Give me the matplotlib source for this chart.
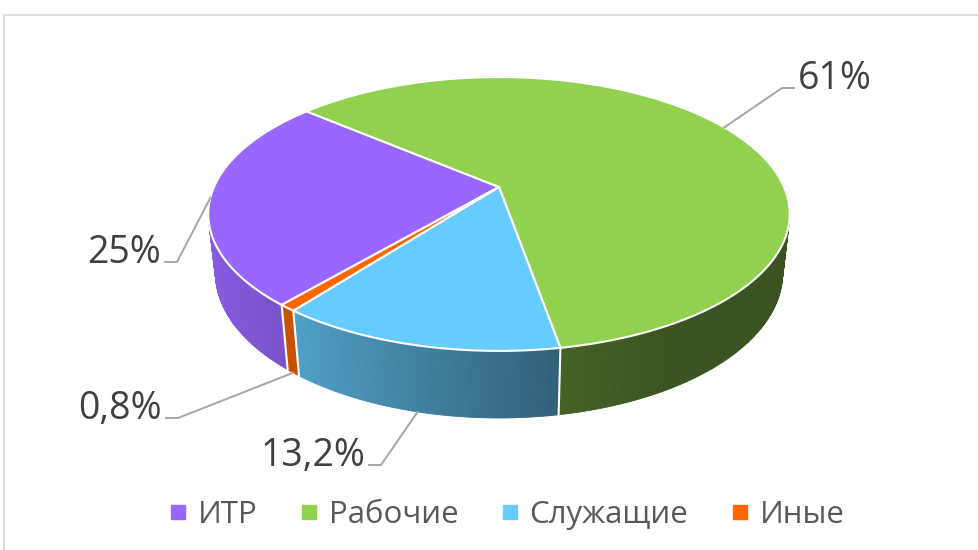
import numpy as np
import matplotlib.pyplot as plt
from matplotlib.collections import PolyCollection
from matplotlib.colors import to_rgb
from matplotlib.lines import Line2D

categories = ['ИТР', 'Рабочие', 'Служащие', 'Иные']
shares = [25, 61, 13.2, 0.8]
labels = ['25%', '61%', '13,2%', '0,8%']
colors = ['#9966FF', '#92D050', '#66CCFF', '#FF6600']

# label elbow points (pixels) for the leader lines
label_elbow = [(177, 262), (782, 88), (381, 465), (178, 418)]

FONT = ['Open Sans', 'DejaVu Sans']

# 3d view of the pie: centre, radius, tilt, camera distance, thickness
cx, cy = 499, 187
R = 285
elev = np.radians(27.5)
dist = 4.5
depth = 0.235
start = -130.4  # first slice starts here and runs clockwise


def project(theta, z=0.0):
    X = np.cos(theta)
    Y = np.sin(theta)
    s, c = np.sin(elev), np.cos(elev)
    yp = Y * s + z * c
    t = -Y * c + z * s
    k = dist / (dist - t)
    return cx + R * X * k, cy - R * yp * k


def shade(x):
    # side walls get darker towards the right
    return np.interp(x, [-1, -0.65, 0.17, 0.5, 1], [0.9, 0.8, 0.47, 0.40, 0.40])


fig = plt.figure(figsize=(9.79, 5.5), dpi=100)
ax = fig.add_axes([0, 0, 1, 1])
ax.set_xlim(0, 979)
ax.set_ylim(550, 0)
ax.axis('off')

# chart area frame
ax.plot([4.5, 4.5, 979], [550, 14.5, 14.5], color='#D9D9D9', lw=1.2)

bounds = np.radians(start - 360 * np.cumsum([0] + shares) / 100)

# side walls, far pieces first
quads, qcols, qdepth = [], [], []
for i in range(len(shares)):
    b0, b1 = bounds[i], bounds[i + 1]
    n = max(2, int(abs(np.degrees(b1 - b0)) * 2))
    th = np.linspace(b0, b1, n)
    base = np.array(to_rgb(colors[i]))
    for a0, a1 in zip(th[:-1], th[1:]):
        p0 = project(a0)
        p1 = project(a1)
        p2 = project(a1, -depth)
        p3 = project(a0, -depth)
        quads.append([p0, p1, p2, p3])
        mid = (a0 + a1) / 2
        qcols.append(np.clip(base * shade(np.cos(mid)), 0, 1))
        qdepth.append(np.sin(mid))
order = np.argsort(qdepth)[::-1]
walls = PolyCollection([quads[j] for j in order],
                       facecolors=[qcols[j] for j in order],
                       edgecolors=[qcols[j] for j in order], linewidths=0.6)
ax.add_collection(walls)

# white seams between slices on the front wall
for b in bounds[:-1]:
    if np.sin(b) < 0:
        x0, y0 = project(b)
        x1, y1 = project(b, -depth)
        ax.plot([x0, x1], [y0, y1], color='white', lw=1.5)

# top faces
for i in range(len(shares)):
    b0, b1 = bounds[i], bounds[i + 1]
    n = max(3, int(abs(np.degrees(b1 - b0)) * 2))
    th = np.linspace(b0, b1, n)
    xs, ys = project(th)
    px = np.concatenate([[cx], xs])
    py = np.concatenate([[cy], ys])
    ax.fill(px, py, facecolor=colors[i], edgecolor='white', lw=1.5, joinstyle='round')

# data labels with leader lines
for i in range(len(shares)):
    mid = (bounds[i] + bounds[i + 1]) / 2
    if np.sin(mid) < -0.5:
        ax0, ay0 = project(mid, -depth)
    else:
        ax0, ay0 = project(mid)
    ex, ey = label_elbow[i]
    side = 1 if ex > cx else -1
    hx = ex + side * 12
    ax.plot([ax0, ex, hx], [ay0, ey, ey], color='#A6A6A6', lw=1.4)
    ax.text(hx + side * 4, ey + 1, labels[i], ha='left' if side > 0 else 'right',
            va='baseline', fontsize=27, color='#404040', family=FONT)

handles = [Line2D([], [], marker='s', ls='', markersize=9.5,
                  markerfacecolor=c, markeredgecolor=c) for c in colors]
ax.legend(handles, categories, loc='center', bbox_to_anchor=(507 / 979, 1 - 515 / 550),
          bbox_transform=fig.transFigure, ncol=4, frameon=False,
          prop={'family': FONT, 'size': 22.5}, labelcolor='#595959',
          handlelength=0.55, handletextpad=0.35, columnspacing=1.38)

fig.savefig('out.png', dpi=100)
